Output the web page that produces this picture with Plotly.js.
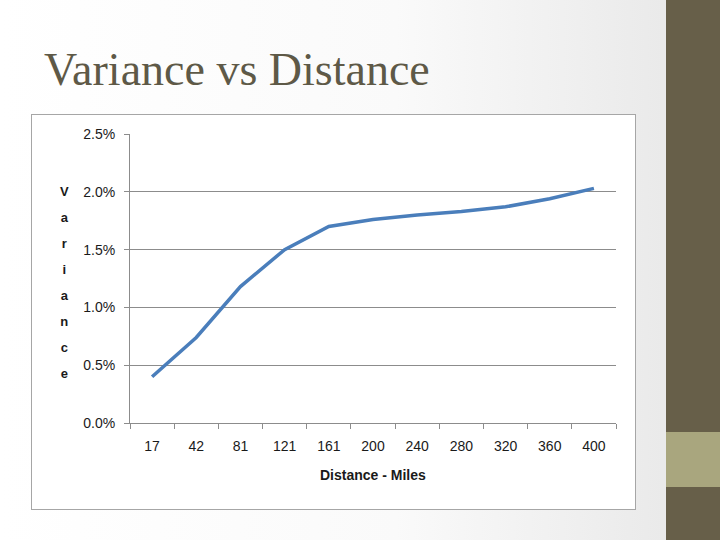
<!DOCTYPE html>
<html>
<head>
<meta charset="utf-8">
<script src="https://cdn.plot.ly/plotly-3.0.1.min.js"></script>
<style>
  html, body { margin: 0; padding: 0; }
  body { width: 720px; height: 540px; position: relative; overflow: hidden;
         background: linear-gradient(to right, #ffffff 0%, #fafafa 55%, #eaeaea 92%); }
  #side { position: absolute; left: 666px; top: 0; width: 54px; height: 540px; background: #675f49; }
  #band { position: absolute; left: 666px; top: 432px; width: 54px; height: 55px; background: #a9a67e; }
  #box { position: absolute; left: 31px; top: 114px; width: 603px; height: 394px;
         background: #fff; border: 1px solid #a6a6a6; }
  #chart { position: absolute; left: 0; top: 0; width: 720px; height: 540px; }
</style>
</head>
<body>
<div id="side"></div>
<div id="band"></div>
<div id="box"></div>
<div id="chart"></div>
<script>
const distances = ["17", "42", "81", "121", "161", "200", "240", "280", "320", "360", "400"];
const variance = [0.0040, 0.0074, 0.0118, 0.0150, 0.0170, 0.0176, 0.0180, 0.0183, 0.0187, 0.0194, 0.0203];
const yTicks = [0, 0.005, 0.01, 0.015, 0.02, 0.025];

const grey = "#8c8c8c";
const sans = "Liberation Sans, Arial, sans-serif";
const tickFont = { family: sans, size: 14, color: "#1a1a1a" };

// stacked letters, bigger line pitch than the glyphs themselves
const stacked = "Variance".split("").map(c => `<span style="font-size:13px">${c}</span>`).join("<br>");

const data = [{
    x: distances,
    y: variance,
    type: "scatter",
    mode: "lines",
    line: { color: "#4a7ebb", width: 3.5 },
    hoverinfo: "x+y"
}];

const layout = {
    width: 720,
    height: 540,
    paper_bgcolor: "rgba(0,0,0,0)",
    plot_bgcolor: "rgba(0,0,0,0)",
    margin: { l: 130, r: 103.5, t: 134, b: 116.5 },
    showlegend: false,
    title: {
        text: "Variance vs Distance",
        font: { family: "Liberation Serif, Times New Roman, serif", size: 46, color: "#5e5947" },
        x: 44 / 720, xanchor: "left", xref: "container",
        y: 1 - 69 / 540, yanchor: "middle", yref: "container"
    },
    xaxis: {
        type: "category",
        range: [-0.5, distances.length - 0.5],
        tickson: "boundaries",
        ticks: "outside",
        ticklen: 5,
        tickcolor: grey,
        showgrid: false,
        showline: true,
        linecolor: grey,
        ticklabelstandoff: 10,
        tickfont: tickFont,
        fixedrange: true
    },
    yaxis: {
        range: [0, 0.025],
        tickvals: yTicks,
        tickformat: ".1%",
        ticks: "outside",
        ticklen: 5,
        tickcolor: grey,
        showgrid: true,
        gridcolor: grey,
        gridwidth: 1,
        zeroline: false,
        showline: true,
        linecolor: grey,
        ticklabelstandoff: 6,
        tickfont: tickFont,
        fixedrange: true
    },
    annotations: [
        {
            text: "<b>Distance - Miles</b>",
            xref: "paper", yref: "paper", x: 0.5, y: 0,
            xanchor: "center", yanchor: "middle", yshift: -52,
            showarrow: false,
            font: { family: sans, size: 14, color: "#1a1a1a" }
        },
        {
            text: `<b>${stacked}</b>`,
            xref: "paper", yref: "paper", x: 0, y: 0.5,
            xanchor: "center", yanchor: "middle", xshift: -66, yshift: -4,
            showarrow: false,
            font: { family: sans, size: 20, color: "#1a1a1a" }
        }
    ]
};

Plotly.newPlot("chart", data, layout, { displayModeBar: false, staticPlot: true });
</script>
</body>
</html>
